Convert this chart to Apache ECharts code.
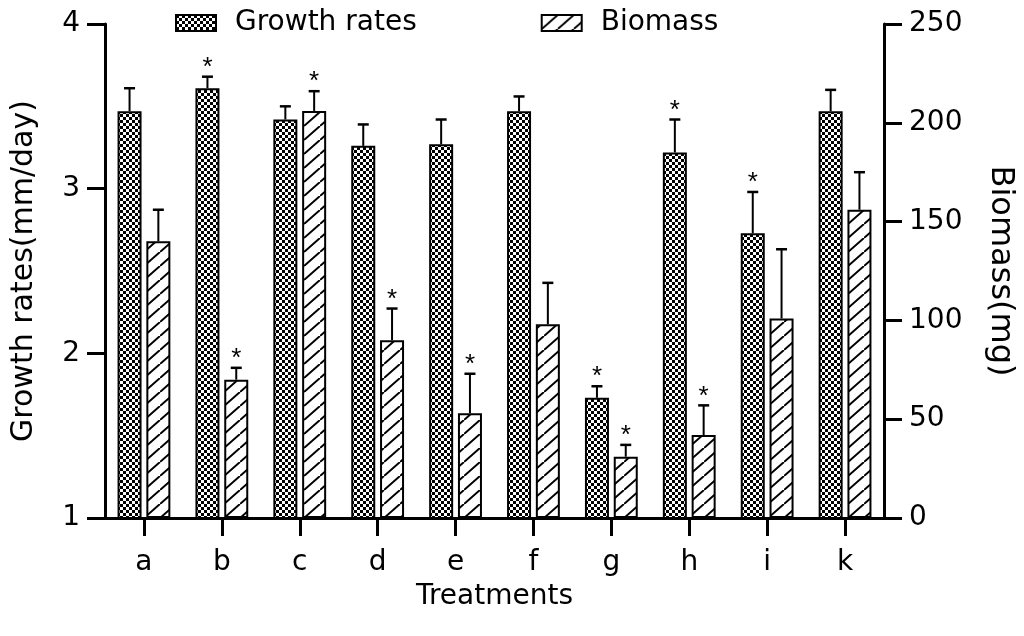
<!DOCTYPE html>
<html>
<head>
<meta charset="utf-8">
<script src="https://cdn.jsdelivr.net/npm/echarts@6/dist/echarts.min.js"></script>
<style>
html,body{margin:0;padding:0;background:#fff;}
#chart{width:1024px;height:636px;}
</style>
</head>
<body>
<div id="chart"></div>
<script>
// ---- data ----
const categories = ['a', 'b', 'c', 'd', 'e', 'f', 'g', 'h', 'i', 'k'];
const growthRates = [3.47, 3.61, 3.42, 3.26, 3.27, 3.47, 1.73, 3.22, 2.73, 3.47];
const growthErr   = [0.14, 0.07, 0.08, 0.13, 0.15, 0.09, 0.07, 0.20, 0.25, 0.13];
const growthSig   = [0, 1, 0, 0, 0, 0, 1, 1, 1, 0];
const biomass     = [140, 70, 206, 90, 53, 98, 31, 42, 101, 156];
const biomassErr  = [16, 6, 10, 16, 20, 21, 6, 15, 35, 19];
const biomassSig  = [0, 1, 1, 1, 1, 0, 1, 1, 0, 0];
const leftTicks = {min: 1, max: 4, interval: 1};
const rightTicks = {min: 0, max: 250, interval: 50};

// ---- styles ----
const FONT = '"DejaVu Sans", "Liberation Sans", Arial, sans-serif';
const FS = 28;
const BAR_W = 24;
const GAP = 0.2;
const CAP = 5.5;

function checkerPattern() {
  const c = document.createElement('canvas');
  c.width = 6; c.height = 6;
  const g = c.getContext('2d');
  g.fillStyle = '#fff'; g.fillRect(0, 0, 6, 6);
  g.fillStyle = '#000';
  g.fillRect(0, 0, 3, 3);
  g.fillRect(3, 3, 3, 3);
  return {image: c, repeat: 'repeat'};
}
function hatchPattern() {
  const w = 16, h = 14;
  const c = document.createElement('canvas');
  c.width = w; c.height = h;
  const g = c.getContext('2d');
  g.fillStyle = '#fff'; g.fillRect(0, 0, w, h);
  g.strokeStyle = '#000'; g.lineWidth = 2;
  g.beginPath();
  g.moveTo(0, h); g.lineTo(w, 0);
  g.moveTo(-w, h); g.lineTo(0, 0);
  g.moveTo(w, 2 * h); g.lineTo(2 * w, h);
  g.stroke();
  return {image: c, repeat: 'repeat'};
}

function errRender(side) {
  return function (params, api) {
    const i = api.value(0), v = api.value(1), e = api.value(2), s = api.value(3);
    const base = api.coord([i, v]);
    const top = api.coord([i, v + e]);
    const x = base[0] + side * (BAR_W / 2 + BAR_W * GAP / 2);
    const children = [
      {type: 'line', shape: {x1: x, y1: base[1], x2: x, y2: top[1]}, style: {stroke: '#000', lineWidth: 2}},
      {type: 'line', shape: {x1: x - CAP, y1: top[1], x2: x + CAP, y2: top[1]}, style: {stroke: '#000', lineWidth: 2.5}}
    ];
    if (s) {
      children.push({type: 'text', style: {text: '*', x: x, y: top[1] + 4, align: 'center', verticalAlign: 'bottom',
        font: '26px "Liberation Sans", Arial, sans-serif', fill: '#000'}});
    }
    return {type: 'group', children: children};
  };
}

const axisLine = {show: true, lineStyle: {color: '#000', width: 3}};
const axisTick = {show: true, length: 18, lineStyle: {color: '#000', width: 3}};
const labelStyle = {color: '#000', fontSize: FS, fontFamily: FONT};

const chart = echarts.init(document.getElementById('chart'));
chart.setOption({
  animation: false,
  backgroundColor: '#fff',
  legend: {
    data: ['Growth rates', 'Biomass'],
    left: 170, top: 4,
    icon: 'rect',
    itemWidth: 40, itemHeight: 16,
    itemGap: 124,
    textStyle: {color: '#000', fontSize: FS, fontFamily: FONT, padding: [0, 0, 0, 14]}
  },
  grid: {left: 105, right: 137, top: 24, bottom: 118, containLabel: false},
  xAxis: {
    type: 'category', data: categories,
    name: 'Treatments', nameLocation: 'middle', nameGap: 65,
    nameTextStyle: {color: '#000', fontSize: 28, fontFamily: FONT},
    axisLine: axisLine, axisTick: Object.assign({alignWithLabel: true}, axisTick),
    axisLabel: Object.assign({margin: 31}, labelStyle),
    splitLine: {show: false}
  },
  yAxis: [
    Object.assign({
      type: 'value', position: 'left',
      name: 'Growth rates(mm/day)', nameLocation: 'middle', nameGap: 66, nameRotate: 90,
      nameTextStyle: {color: '#000', fontSize: 30, fontFamily: FONT},
      axisLine: axisLine, axisTick: axisTick,
      axisLabel: Object.assign({margin: 25}, labelStyle),
      splitLine: {show: false}
    }, leftTicks),
    Object.assign({
      type: 'value', position: 'right',
      name: 'Biomass(mg)', nameLocation: 'middle', nameGap: 100, nameRotate: -90,
      nameTextStyle: {color: '#000', fontSize: 32, fontFamily: FONT},
      axisLine: axisLine, axisTick: axisTick,
      axisLabel: Object.assign({margin: 25}, labelStyle),
      splitLine: {show: false}
    }, rightTicks)
  ],
  series: [
    {
      name: 'Growth rates', type: 'bar', yAxisIndex: 0, data: growthRates,
      barWidth: BAR_W, barGap: (GAP * 100) + '%',
      itemStyle: {color: checkerPattern(), borderColor: '#000', borderWidth: 2}
    },
    {
      name: 'Biomass', type: 'bar', yAxisIndex: 1, data: biomass,
      barWidth: BAR_W, barGap: (GAP * 100) + '%',
      itemStyle: {color: hatchPattern(), borderColor: '#000', borderWidth: 2}
    },
    {
      type: 'custom', yAxisIndex: 0, renderItem: errRender(-1), z: 5,
      data: categories.map((c, i) => [i, growthRates[i], growthErr[i], growthSig[i]])
    },
    {
      type: 'custom', yAxisIndex: 1, renderItem: errRender(1), z: 5,
      data: categories.map((c, i) => [i, biomass[i], biomassErr[i], biomassSig[i]])
    }
  ]
});
</script>
</body>
</html>
